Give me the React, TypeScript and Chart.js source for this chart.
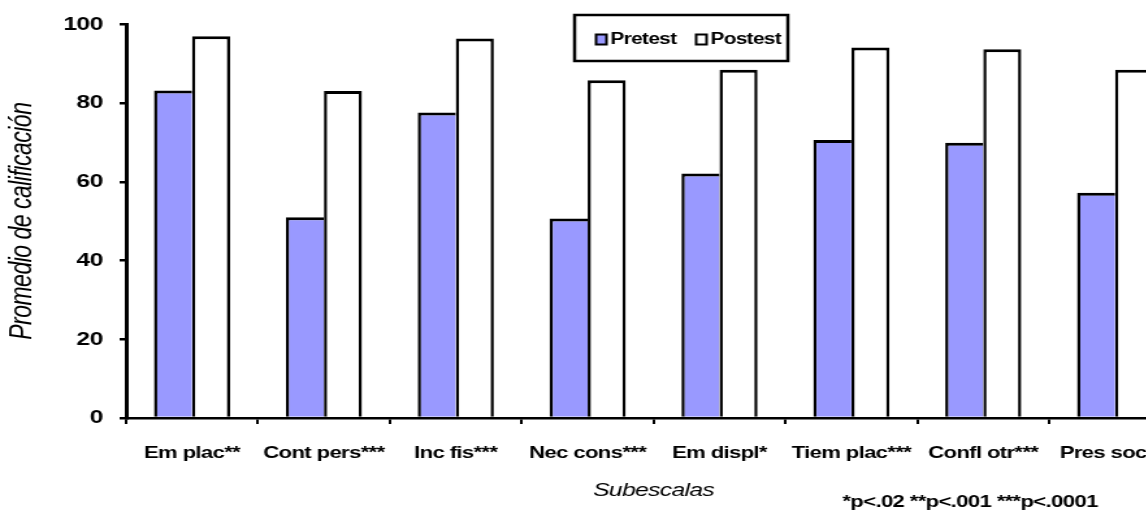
import { useEffect, useRef } from "react";
import { Chart, registerables } from "chart.js";

Chart.register(...registerables);

const categories = [
  "Em plac**",
  "Cont pers***",
  "Inc fis***",
  "Nec cons***",
  "Em displ*",
  "Tiem plac***",
  "Confl otr***",
  "Pres soc***",
];
const pretest = [83.2, 51.0, 77.6, 50.7, 62.1, 70.6, 69.9, 57.2];
const postest = [97.0, 83.1, 96.4, 85.8, 88.5, 94.1, 93.7, 88.5];
const yTickValues = [0, 20, 40, 60, 80, 100];
const seriesNames = ["Pretest", "Postest"];
const yTitle = "Promedio de calificación";
const xTitle = "Subescalas";
const footnote = "*p<.02 **p<.001 ***p<.0001";

const SX = 1.3;
const W = 930;
const H = 517;
const FONT = "'Liberation Sans', Arial, sans-serif";
const PRE_COLOR = "#9999FF";

const spacingPlugin = {
  id: "tightText",
  beforeDraw(chart: any) {
    chart.ctx.letterSpacing = "-0.5px";
  },
};

const legendPlugin = {
  id: "boxLegend",
  afterDraw(chart: any) {
    const ctx = chart.ctx;
    ctx.save();
    ctx.letterSpacing = "-0.5px";
    ctx.fillStyle = "#ffffff";
    ctx.strokeStyle = "#000000";
    ctx.lineWidth = 2.5;
    ctx.fillRect(442, 15, 164, 46);
    ctx.strokeRect(442, 15, 164, 46);
    const items = [
      { x: 458.5, color: PRE_COLOR, text: seriesNames[0] },
      { x: 535.5, color: "#ffffff", text: seriesNames[1] },
    ];
    ctx.font = `bold 16px ${FONT}`;
    ctx.textBaseline = "middle";
    ctx.textAlign = "left";
    for (const it of items) {
      ctx.fillStyle = it.color;
      ctx.fillRect(it.x, 34.5, 8, 10);
      ctx.lineWidth = 2;
      ctx.strokeRect(it.x, 34.5, 8, 10);
      ctx.fillStyle = "#000000";
      ctx.fillText(it.text, it.x + 11, 40);
    }
    ctx.font = `bold 17px ${FONT}`;
    ctx.fillText(footnote, 648, 502);
    ctx.restore();
  },
};

export default function App() {
  const ref = useRef<HTMLCanvasElement | null>(null);

  useEffect(() => {
    if (!ref.current) return;
    const chart = new Chart(ref.current, {
      type: "bar",
      data: {
        labels: categories,
        datasets: [
          {
            label: seriesNames[0],
            data: pretest,
            backgroundColor: PRE_COLOR,
            borderColor: "#000000",
            borderWidth: { left: 2.5, top: 3, right: 0, bottom: 0 },
            borderSkipped: false,
          },
          {
            label: seriesNames[1],
            data: postest,
            backgroundColor: "#ffffff",
            borderColor: "#000000",
            borderWidth: { left: 2.5, top: 3, right: 2.5, bottom: 0 },
            borderSkipped: false,
          },
        ],
      },
      options: {
        animation: false,
        responsive: false,
        maintainAspectRatio: false,
        devicePixelRatio: 1,
        layout: { padding: { left: 0, right: 21.5, top: 24, bottom: 0 } },
        datasets: {
          bar: { barPercentage: 1, categoryPercentage: 0.577 },
        },
        plugins: {
          legend: { display: false },
          tooltip: { enabled: false },
        },
        scales: {
          x: {
            offset: true,
            grid: {
              display: true,
              offset: true,
              drawOnChartArea: false,
              drawTicks: true,
              tickLength: 6,
              color: "#000000",
              lineWidth: 2,
            },
            border: { display: true, color: "#000000", width: 2.5 },
            ticks: {
              color: "#000000",
              font: { family: FONT, size: 17, weight: "bold" },
              padding: 19,
              maxRotation: 0,
              autoSkip: false,
            },
            title: {
              display: true,
              text: xTitle,
              color: "#000000",
              font: { family: FONT, size: 19, style: "italic" },
              padding: { top: 0, bottom: 14.5 },
            },
            afterFit(scale: any) {
              scale.height = 99;
            },
          },
          y: {
            min: 0,
            max: 100,
            grid: {
              display: true,
              drawOnChartArea: false,
              drawTicks: true,
              tickLength: 5,
              color: "#000000",
              lineWidth: 2.5,
            },
            border: { display: true, color: "#000000", width: 3 },
            ticks: {
              color: "#000000",
              font: { family: FONT, size: 19, weight: "bold" },
              padding: 13,
            },
            afterBuildTicks(scale: any) {
              scale.ticks = yTickValues.map((v) => ({ value: v }));
            },
            title: {
              display: true,
              text: yTitle,
              color: "#000000",
              font: { family: FONT, size: 23, style: "italic" },
              padding: { top: 3.5, bottom: 0 },
            },
            afterFit(scale: any) {
              scale.width = 97;
            },
          },
        },
      },
      plugins: [spacingPlugin, legendPlugin],
    });
    return () => chart.destroy();
  }, []);

  return (
    <div
      style={{
        position: "fixed",
        left: 0,
        top: 0,
        width: 1146,
        height: 517,
        overflow: "hidden",
        background: "#ffffff",
      }}
    >
      <div
        style={{
          width: W,
          height: H,
          transform: `scaleX(${SX})`,
          transformOrigin: "0 0",
        }}
      >
        <canvas ref={ref} width={W} height={H} style={{ display: "block" }} />
      </div>
    </div>
  );
}
